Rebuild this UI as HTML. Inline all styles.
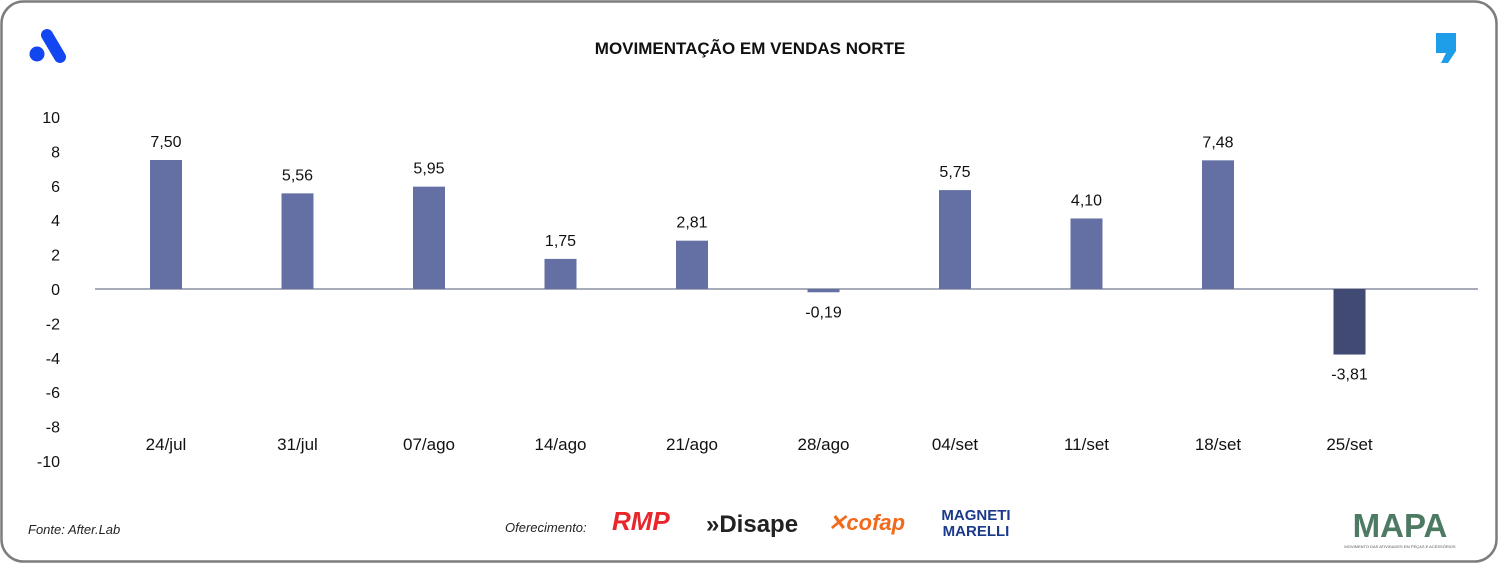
<!DOCTYPE html>
<html><head><meta charset="utf-8"><style>
body{margin:0;width:1500px;height:565px;background:#fff;overflow:hidden;font-family:"Liberation Sans",sans-serif}
</style></head><body>
<svg width="1500" height="565" xmlns="http://www.w3.org/2000/svg">
<rect x="1.5" y="1.5" width="1495" height="560" rx="22" fill="#fff" stroke="#7d7d7d" stroke-width="2.5"/>
<g>
<line x1="47" y1="35" x2="60" y2="57" stroke="#1246f0" stroke-width="12" stroke-linecap="round"/>
<circle cx="37" cy="54" r="7.5" fill="#1246f0"/>
</g>
<path d="M1436 33 h20 v18 l-8 12 h-7 l5 -10 h-10 z" fill="#1e9ee8"/>
<text x="750" y="54" text-anchor="middle" font-size="17" font-weight="bold" fill="#111">MOVIMENTAÇÃO EM VENDAS NORTE</text>
<g id="yaxis"></g>
<g id="bars"></g>
<text x="28" y="534" font-size="13" font-style="italic" fill="#222">Fonte: After.Lab</text>
<text x="505" y="532" font-size="13" font-style="italic" fill="#222">Oferecimento:</text>
<text x="612" y="530" font-size="26" font-weight="bold" font-style="italic" fill="#e8262b">RMP</text>
<text x="706" y="532" font-size="24" font-weight="bold" fill="#222">»Disape</text>
<text x="828" y="530" font-size="22" font-weight="bold" font-style="italic" fill="#f26a1b">✕cofap</text>
<text x="976" y="520" text-anchor="middle" font-size="15" font-weight="bold" fill="#1b3a8c">MAGNETI</text>
<text x="976" y="536" text-anchor="middle" font-size="15" font-weight="bold" fill="#1b3a8c">MARELLI</text>
<text x="1400" y="537" text-anchor="middle" font-size="33" font-weight="bold" fill="#4d7a63">MAPA</text>
<text x="1400" y="548" text-anchor="middle" font-size="4" fill="#555">MOVIMENTO DAS ATIVIDADES EM PEÇAS E ACESSÓRIOS</text>
</svg>
<script>
const categories=["24/jul","31/jul","07/ago","14/ago","21/ago","28/ago","04/set","11/set","18/set","25/set"];
const values=[7.50,5.56,5.95,1.75,2.81,-0.19,5.75,4.10,7.48,-3.81];
const yTicks=[10,8,6,4,2,0,-2,-4,-6,-8,-10];
const NS="http://www.w3.org/2000/svg";
const y=v=>289-v*17.2;
const x=i=>166+i*131.5;
function mk(t,a,p){const e=document.createElementNS(NS,t);for(const k in a)e.setAttribute(k,a[k]);p.appendChild(e);return e;}
const ya=document.getElementById('yaxis'),bg=document.getElementById('bars');
yTicks.forEach(t=>{const e=mk('text',{x:60,y:y(t)+6,'text-anchor':'end','font-size':16,fill:'#111'},ya);


e.textContent=t;});
const ax=mk('line',{x1:95,x2:1478,y1:y(0),y2:y(0),stroke:'#8a8fa3','stroke-width':1.5},ya);


values.forEach((v,i)=>{
const r=mk('rect',{x:x(i)-16,width:32,y:Math.min(y(v),y(0)),height:Math.abs(y(v)-y(0)),fill:i===values.length-1?'#414a73':'#6470a4'},bg);


const l=mk('text',{x:x(i),y:v>=0?y(v)-13:y(v)+25,'text-anchor':'middle','font-size':16,fill:'#111'},bg);


l.textContent=v.toFixed(2).replace('.',',');
const c=mk('text',{x:x(i),y:450,'text-anchor':'middle','font-size':17,fill:'#111'},bg);


c.textContent=categories[i];
});
</script>
</body></html>
